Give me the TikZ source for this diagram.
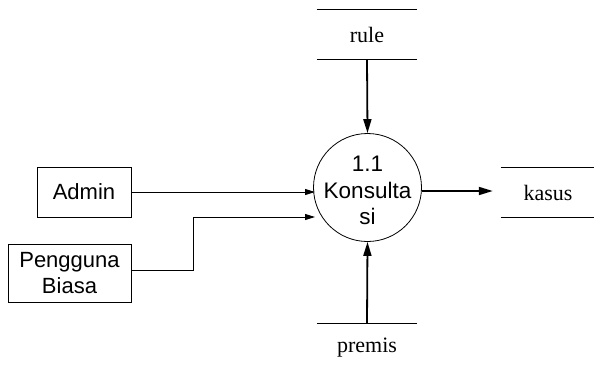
\documentclass[tikz,border=0pt]{standalone}
\usepackage{fontspec}
\setmainfont{Liberation Serif}
\setsansfont{Liberation Sans}
\usetikzlibrary{arrows.meta}
\begin{document}
\begin{tikzpicture}[x=1pt,y=-1pt,
  entity/.style={draw,line width=0.8pt,rectangle,inner sep=0pt,align=center,font=\sffamily\fontsize{22}{26}\selectfont},
  proc/.style={draw,line width=0.8pt,circle,inner sep=0pt,minimum size=108pt},
  proctext/.style={inner sep=0pt,align=center,font=\sffamily\fontsize{22.5}{26.5}\selectfont},
  store/.style={rectangle,inner sep=0pt,minimum width=100pt,minimum height=49.5pt,font=\rmfamily\fontsize{22}{26}\selectfont},
  storeline/.style={line width=0.8pt},
  thinflow/.style={line width=0.9pt,-{Triangle[length=10pt,width=6pt]}},
  thickflow/.style={line width=1.8pt,-{Triangle[length=14pt,width=8pt]}}]
\useasboundingbox (0,0) rectangle (594,370);
\node[entity,minimum width=94pt,minimum height=50pt] (admin) at (84,192) {Admin};
\node[entity,minimum width=123pt,minimum height=58pt] (peng) at (69.5,273) {Pengguna\\Biasa};
\node[proc] (p) at (367.5,187.5) {};
\node[proctext] (ptext) at (367.5,190.5) {1.1\\Konsulta\\si};
\node[store] (rule) at (367,34.5) {rule};
\node[store] (premis) at (367,348) {premis};
\node[store,minimum width=94pt] (kasus) at (548,192.5) {kasus};
\draw[storeline] (rule.north west) -- (rule.north east);
\draw[storeline] (rule.south west) -- (rule.south east);
\draw[storeline] (premis.north west) -- (premis.north east);
\draw[storeline] (kasus.north west) -- (kasus.north east);
\draw[storeline] (kasus.south west) -- (kasus.south east);
\coordinate (pin) at (315,217);
\coordinate (bend) at (193,217);
\draw[thickflow] (rule.south) -- (p.north);
\draw[thickflow] (premis.north) -- (p.south);
\draw[thickflow,shorten >=8pt] (p.east |- 0,191) -- (kasus.west |- 0,191);
\draw[thinflow] (admin.east) -- (admin.east -| 315,0);
\draw[thinflow] ([yshift=3pt]peng.east) -| (bend) -- (pin);
\end{tikzpicture}
\end{document}
